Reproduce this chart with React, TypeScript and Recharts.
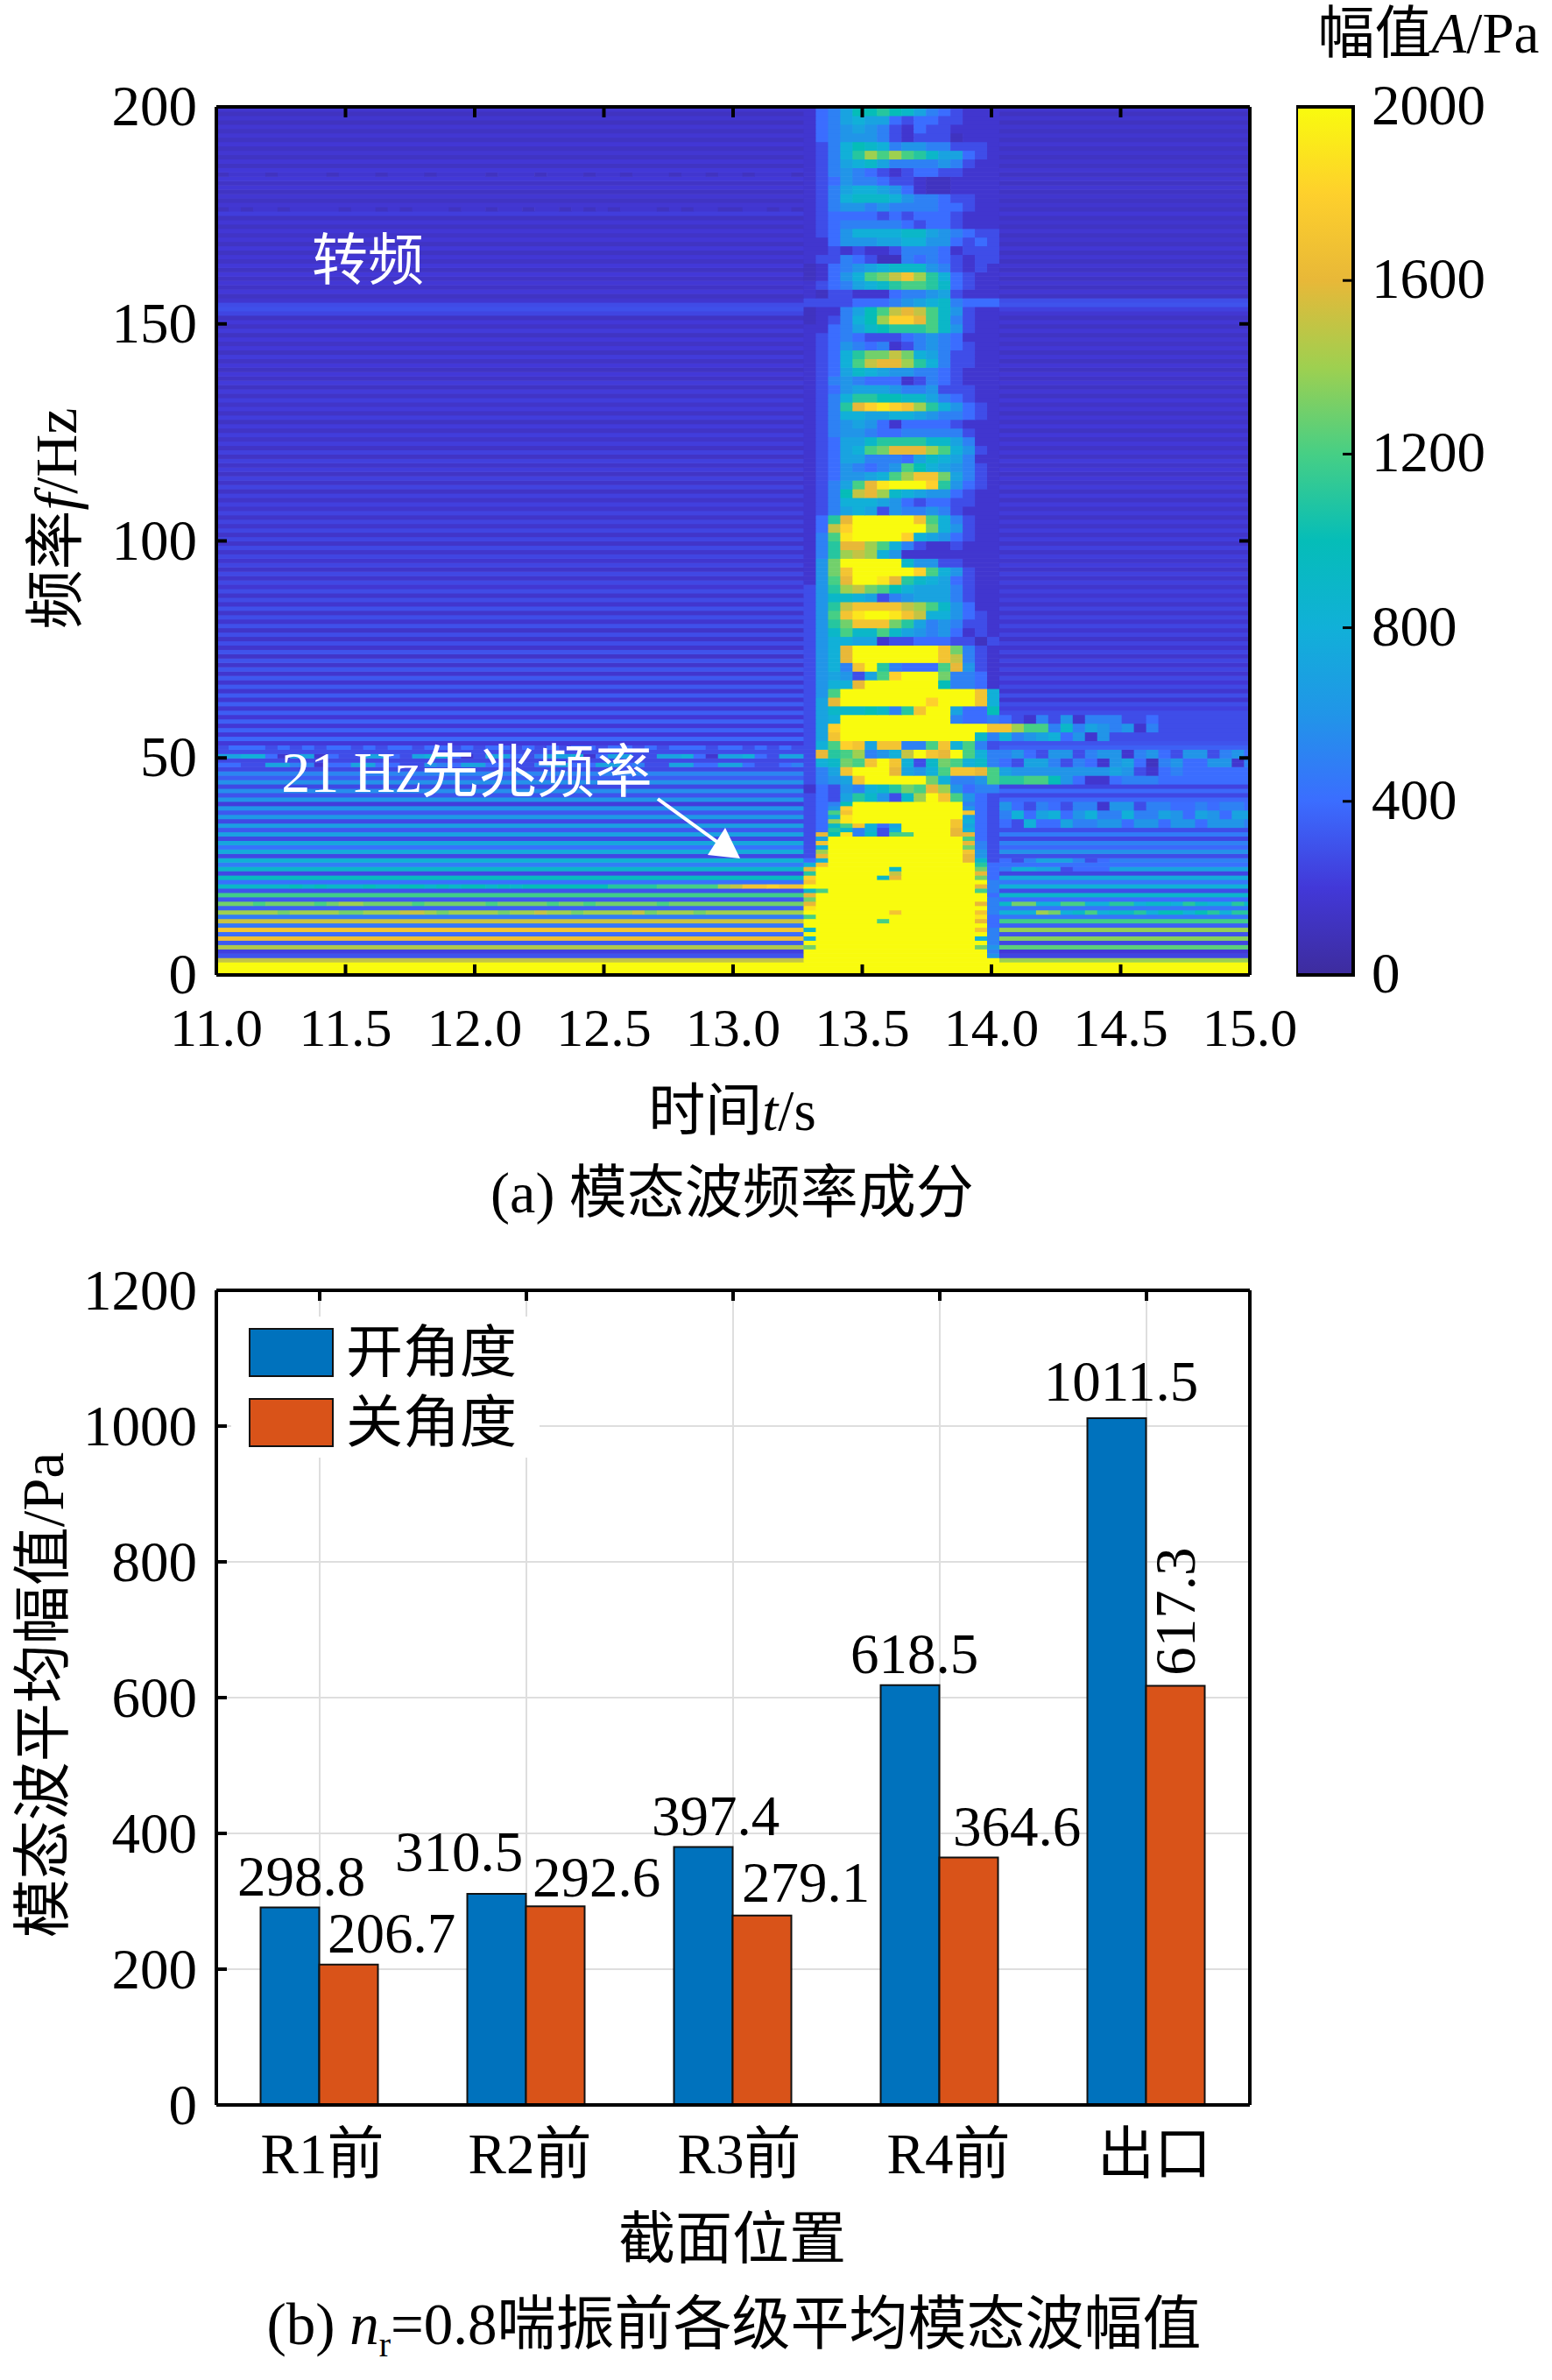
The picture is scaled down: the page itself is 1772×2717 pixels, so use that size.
import React from "react";
import {
  Bar,
  BarChart,
  CartesianGrid,
  LabelList,
  Legend,
  Scatter,
  ScatterChart,
  XAxis,
  YAxis,
} from "recharts";

// panel (a): amplitude per 1 Hz row, before the surge (11.0 s - 13.27 s)
const bgLeft = [
  2000, 2000, 2000, 1500, 300, 230, 1450, 330, 1650, 400,
  1720, 450, 1520, 480, 1420, 350, 1300, 320, 1180, 300,
  980, 420, 950, 260, 880, 480, 820, 260, 760, 430,
  720, 260, 680, 320, 660, 260, 620, 320, 600, 220,
  590, 300, 560, 260, 580, 340, 520, 260, 520, 260,
  520, 280, 400, 200, 380, 200, 360, 190, 350, 190,
  340, 180, 340, 180, 330, 170, 320, 170, 320, 170,
  310, 160, 300, 150, 300, 160, 280, 150, 280, 150,
  290, 170, 280, 160, 290, 170, 270, 160, 270, 180,
  260, 160, 260, 150, 250, 170, 250, 160, 260, 150,
  250, 150, 250, 160, 240, 150, 240, 160, 230, 150,
  230, 140, 240, 150, 230, 140, 220, 150, 230, 140,
  230, 140, 220, 150, 220, 140, 210, 130, 220, 140,
  210, 150, 220, 140, 210, 130, 210, 140, 200, 130,
  200, 140, 210, 130, 200, 140, 200, 130, 210, 140,
  200, 130, 250, 290, 270, 170, 130, 200, 140, 190,
  140, 200, 130, 200, 140, 190, 130, 200, 130, 190,
  140, 190, 130, 190, 130, 220, 130, 180, 130, 180,
  130, 190, 140, 200, 130, 200, 130, 190, 130, 180,
  130, 190, 130, 180, 130, 180, 120, 170, 120, 170,
];

// same rows after the surge (14.03 s - 15.0 s)
const bgRight = [
  2000, 2000, 2000, 1400, 250, 200, 1250, 250, 1350, 300,
  1380, 350, 1180, 450, 1000, 450, 950, 400, 880, 280,
  800, 450, 760, 250, 700, 420, 620, 280, 580, 380,
  500, 250, 470, 280, 500, 350, 550, 400, 550, 350,
  380, 260, 380, 240, 420, 420, 480, 480, 400, 450,
  450, 450, 350, 300, 350, 320, 400, 400, 350, 350,
  280, 230, 280, 170, 280, 170, 260, 190, 260, 170,
  250, 170, 250, 160, 250, 170, 240, 150, 240, 170,
  250, 170, 240, 160, 240, 160, 230, 170, 230, 160,
  230, 160, 230, 150, 220, 160, 220, 150, 230, 150,
  220, 150, 220, 150, 210, 140, 210, 150, 210, 140,
  210, 140, 210, 150, 200, 140, 200, 150, 210, 140,
  200, 140, 200, 140, 200, 130, 200, 140, 190, 130,
  190, 140, 200, 130, 190, 130, 190, 140, 190, 130,
  190, 130, 190, 130, 190, 140, 180, 130, 190, 130,
  190, 130, 180, 230, 300, 280, 130, 190, 130, 180,
  130, 190, 130, 180, 130, 180, 130, 190, 130, 170,
  130, 180, 130, 170, 130, 190, 130, 170, 130, 170,
  130, 180, 130, 180, 130, 180, 130, 170, 130, 170,
  130, 180, 130, 170, 130, 170, 120, 170, 120, 170,
];

// surge columns, one letter per 100 Pa (0-9, A = 1000 ... K = 2000), 2 Hz rows from 200 Hz down to 40 Hz
const burstHigh = [
  "2457AABA97543222", "2457877434433222", "2456765324332222", "2456665323331222",
  "2358A98566553332", "2358BECECB977432", "2357897555565322", "2356543234433222",
  "2346554332112222", "2357887642112222", "2358999865543322", "2356656555544322",
  "2344443434443222", "2345555543443222", "2346888899765433", "2246667788664343",
  "2232322355542333", "2335431154543233", "1245678999653232", "12468CDFHEB84322",
  "2345789BCCB94322", "2133222455673222", "3333444567895444", "12257ACFGFC96322",
  "12358AEIIGC95322", "224579ABBBC96322", "2345433345654222", "2346545235654322",
  "2348BDDFD8753322", "2348CFGGEB853322", "2347987665543222", "2356544423543222",
  "2346777655633322", "2358BBAA99754322", "235BGIJIHEB86432", "2358877887655432",
  "2356764244443222", "2356654455555322", "234779BBBB997522", "23478CDGGGEC8632",
  "2347755547987522", "23465456CA876532", "2346678CEHHD7532", "2357CGJKKKIB6432",
  "235AFGE987664322", "2358887643443322", "2357873655653222", "24BGKKKKKHC85322",
  "24FIKKKKKKD86322", "25CJKKKKI8764322", "25BGGEC853223222", "25BEFE8622222222",
  "26DKKKKK96633222", "26DHKKKKKIC86322", "26CGKKJGB9874322", "36BEFDCA87775322",
  "3699873567775322", "36BFHHHHFEC96422", "36CHJKKJHF886432", "36BDHHHDB7565332",
  "369C99C976564232", "3688772334443313", "368GKKKKKKKHD532", "368GKKKKKKKHF532",
  "3685HKB5444CG632", "367637CIKKKD5542", "3688GKKKKKKA5542", "36CKKKKKKKKKKKH8",
  "37GKKKKKKKIKKKH8", "37999A95BHKK744A", "378KKKKKKKKK5445", "37IKKKKKKKKKKKKH",
  "37HKKKKKKKKKKK95", "38CIH7HH55CH8C53", "3GBCE568FKHGKC85", "389DCHKH839DC895",
  "357HKKKG768CHHGC", "3567HKKKKKD8556C", "2436589BDCGE6455", "3437B9639EKHC643",
];

// surge columns, 1 Hz rows from 39 Hz down to 0 Hz
const burstLow = [
  "345AKKKKKKKKK543", "346IKKKKKKKKK643", "34CHKKKKKKKKKH43", "348JKKKKKKKKK743",
  "34EJKKKKKKKKH843", "349CH847KKKKH743", "34B95838KKKKG843", "3GAJ593CCKKKGG43",
  "37KKKKKKKKKKKC43", "3HKKKKKKKKKKKG53", "38KKKKKKKKKKKD53", "3EKKKKKKKKKKKH63",
  "3GKKKKKKKKKKKG63", "48KKKKKKKKKKKG93", "8HKKKKKKKKKKKKB4", "GKKKKKK9KKKKKKD4",
  "BKKKKKKFKKKKKKG4", "IKKKKK9GKKKKKKD4", "HKKKKKKKKKKKKKK5", "KKKKKKKKKKKKKKG5",
  "9CKKKKKKKKKKKKC5", "GKKKKKKKKKKKKKK4", "DKKKKKKKKKKKKKK5", "GKKKKKKKKKKKKKG5",
  "JKKKKKKKKKKKKKK5", "KKKKKKKHKKKKKKH5", "CKKKKKKKKKKKKKJ4", "KKKKKKCKKKKKKKG4",
  "KKKKKKKKKKKKKKK4", "9KKKKKKKKKKKKKH5", "KKKKKKKKKKKKKKK5", "8KKKKKKKKKKKKK85",
  "KKKKKKKKKKKKKKK5", "DKKKKKKKKKKKKKD6", "KKKKKKKKKKKKKKK5", "KKKKKKKKKKKKKKK6",
  "KKKKKKKKKKKKKKKK", "KKKKKKKKKKKKKKKK", "KKKKKKKKKKKKKKKK", "KKKKKKKKKKKKKKKK",
];

// rows where the background is not flat along time: [first row, rows covered, letters per column]
const leftRowDetail: [number, number, string][] = [
  [20, 1, "999999A9A999A99AA9A9AA9A9AAAAAAABBBBCCCCCEFHHIHH"],
  [14, 1, "EEEEEDEEEEDDEEEFFEDEEEEDEEFEEDEEEEFDEEEDEEEEEEEEE"],
  [16, 1, "DDDCDDDDCDEEDDDDCDDDDDCDDDDCDDCDDDDDCDDDDDDDDDDD"],
  [50, 1, "7788427724337743788423774357782477337784277843773"],
  [48, 1, "4433775524477443365477443356744774533774477433454"],
  [52, 1, "3444343434434344344343443434344344343444344343434"],
  [176, 1, "1212212222122121222122122122121212221212211221212"],
  [184, 1, "1222122221222122212222122212221221222122122122212"],
];

const rightRowDetail: [number, number, string][] = [
  [56, 2, "HECC59576562533333333"],
  [54, 2, "856784626333333333333"],
  [58, 2, "432536255533433333333"],
  [50, 2, "564366356625643663564"],
  [48, 2, "437753542674156446625"],
  [46, 2, "766666666763245444444"],
  [44, 2, "BBCCA6422455544444444"],
  [38, 2, "643543552663554454554"],
  [36, 2, "584784685585576476477"],
  [34, 2, "438447556646646646665"],
  [26, 1, "435777534555555555555"],
  [24, 1, "588773444777777777777"],
  [16, 1, "9DD88CC88BB8998B988B9"],
  [14, 1, "888ED89C899B8AA8AB8BB"],
];

const timeTicks = [11, 11.5, 12, 12.5, 13, 13.5, 14, 14.5, 15];
const freqTicks = [0, 50, 100, 150, 200];
const ampTicks = [0, 400, 800, 1200, 1600, 2000];
const ampStops = [0, 200, 400, 600, 800, 1000, 1200, 1400, 1600, 1800, 2000];
const ampColors = [
  "#3d2c9d", "#4238d8", "#3b6dff", "#2195e8", "#11b0d8", "#05bdb8",
  "#46cf85", "#9ed050", "#e8b838", "#fed02c", "#f9fb0e",
];
const frameAnchors = [
  { t0: 11, f0: 0 },
  { t0: 15, f0: 200 },
];

// panel (b)
const sections = ["R1前", "R2前", "R3前", "R4前", "出口"];
const openHeights = [291, 311, 380, 618.5, 1011.5];
const closeHeights = [206.7, 292.6, 279.1, 364.6, 617.3];
const openLabels = ["298.8", "310.5", "397.4", "618.5", "1011.5"];
const closeLabels = ["206.7", "292.6", "279.1", "364.6", "617.3"];
const meanTicks = [0, 200, 400, 600, 800, 1000, 1200];

// layout
const SERIF = '"Liberation Serif", "Noto Sans CJK SC", serif';
const PLOT_LEFT = 247;
const PLOT_RIGHT = 1427;
const A_TOP = 122;
const A_BOTTOM = 1113;
const B_TOP = 73;
const B_BOTTOM = 1003;
const PX_PER_S = (PLOT_RIGHT - PLOT_LEFT) / 4;
const PX_PER_HZ = (A_BOTTOM - A_TOP) / 200;
const COL_DT = 0.04735;
const BURST_COL = 48;
const RIGHT_COL = 64;
const COLS = 85;

const openLabelNudge = [[13, -35], [-43, -48], [14, -36], [5, -36], [5, -42]];
const closeLabelNudge = [[49, -36], [47, -33], [50, -38], [55, -35], [0, -85]];
const sectionTickNudge = [3, 4, 7, 10, 9];

function hexRgb(hex: string) {
  return [1, 3, 5].map((i) => parseInt(hex.slice(i, i + 2), 16));
}

function ampColor(a: number) {
  const v = Math.min(2000, Math.max(0, a));
  const i = Math.min(ampStops.length - 2, Math.floor(v / 200));
  const f = (v - ampStops[i]) / 200;
  const c0 = hexRgb(ampColors[i]);
  const c1 = hexRgb(ampColors[i + 1]);
  const rgb = c0.map((c, j) => Math.round(c + (c1[j] - c) * f));
  return `rgb(${rgb.join(",")})`;
}

// the faintest letters sit closer to the background rows
function letterAmp(ch: string) {
  if (ch === "1") return 120;
  if (ch === "2") return 170;
  if (ch === "3") return 280;
  return parseInt(ch, 21) * 100;
}

function burstString(row: number) {
  if (row < 40) return burstLow[39 - row];
  return burstHigh[Math.floor((199 - row) / 2)];
}

function detailFor(table: [number, number, string][], row: number) {
  const hit = table.find(([first, n]) => row >= first && row < first + n);
  return hit ? hit[2] : "";
}

// merge equal neighbours so each row only draws as many rects as it needs
function buildCells() {
  const out: { t0: number; t1: number; f0: number; f1: number; a: number }[] = [];
  for (let row = 0; row < 200; row++) {
    const burst = burstString(row);
    const left = detailFor(leftRowDetail, row);
    const right = detailFor(rightRowDetail, row);
    let start = 0;
    let current = -1;
    for (let k = 0; k <= COLS; k++) {
      let a = -2;
      if (k < BURST_COL) a = left[k] ? letterAmp(left[k]) : bgLeft[row];
      else if (k < RIGHT_COL) a = letterAmp(burst[k - BURST_COL]);
      else if (k < COLS) {
        const ch = right[k - RIGHT_COL];
        a = ch ? letterAmp(ch) : bgRight[row];
      }
      if (a !== current) {
        if (current >= 0) {
          out.push({
            t0: 11 + start * COL_DT,
            t1: Math.min(15, 11 + k * COL_DT),
            f0: row,
            f1: row + 1,
            a: current,
          });
        }
        start = k;
        current = a;
      }
    }
  }
  return out;
}

const cells = buildCells();

function HeatCell(props: any) {
  const { cx, cy, payload } = props;
  const w = (payload.t1 - payload.t0) * PX_PER_S;
  const h = (payload.f1 - payload.f0) * PX_PER_HZ;
  return (
    <rect
      x={cx}
      y={cy - h}
      width={Math.min(w + 0.6, PLOT_RIGHT - cx)}
      height={h + 0.6}
      fill={ampColor(payload.a)}
    />
  );
}

function Txt({ x, y, size = 65, color = "#000", rotate, children }: any) {
  return (
    <div
      style={{
        position: "absolute",
        left: x,
        top: y,
        transform: `translate(-50%, -50%)${rotate ? ` rotate(${rotate}deg)` : ""}`,
        fontFamily: SERIF,
        fontSize: size,
        lineHeight: 1,
        color,
        whiteSpace: "nowrap",
      }}
    >
      {children}
    </div>
  );
}

const I = ({ children }: any) => <span style={{ fontStyle: "italic" }}>{children}</span>;

const emptyTick = () => "";
const noMark = () => <g />;

function HeatPanel() {
  return (
    <ScatterChart
      width={1772}
      height={1300}
      margin={{ top: A_TOP, right: 1772 - PLOT_RIGHT, bottom: 1300 - A_BOTTOM, left: PLOT_LEFT }}
    >
      <XAxis type="number" dataKey="t0" domain={[11, 15]} allowDataOverflow hide />
      <YAxis type="number" dataKey="f0" domain={[0, 200]} allowDataOverflow hide />
      <Scatter data={cells} dataKey="f0" shape={HeatCell} isAnimationActive={false} />
    </ScatterChart>
  );
}

// axes live in their own transparent chart so the box and ticks sit above the cells
function HeatFrame() {
  const axisLine = { stroke: "#000", strokeWidth: 4 };
  const tickLine = { stroke: "#000", strokeWidth: 4 };
  return (
    <ScatterChart
      width={1772}
      height={1300}
      margin={{ top: A_TOP - 1, right: 1772 - PLOT_RIGHT - 1, bottom: 1300 - A_BOTTOM - 100, left: PLOT_LEFT - 100 }}
    >
      <XAxis
        type="number"
        dataKey="t0"
        domain={[11, 15]}
        ticks={timeTicks}
        interval={0}
        height={100}
        axisLine={axisLine}
        tickLine={tickLine}
        tickSize={-12}
        tickMargin={49}
        tickFormatter={(v: number) => v.toFixed(1)}
        tick={{ fontFamily: SERIF, fontSize: 62, fill: "#000" }}
      />
      <YAxis
        type="number"
        dataKey="f0"
        domain={[0, 200]}
        ticks={freqTicks}
        interval={0}
        width={100}
        axisLine={axisLine}
        tickLine={tickLine}
        tickSize={-12}
        tickMargin={34}
        tick={{ fontFamily: SERIF, fontSize: 65, fill: "#000", dy: -2 }}
      />
      <XAxis
        xAxisId="top"
        orientation="top"
        type="number"
        dataKey="t0"
        domain={[11, 15]}
        ticks={timeTicks}
        interval={0}
        height={1}
        axisLine={axisLine}
        tickLine={tickLine}
        tickSize={-12}
        tickFormatter={emptyTick}
      />
      <YAxis
        yAxisId="right"
        orientation="right"
        type="number"
        dataKey="f0"
        domain={[0, 200]}
        ticks={freqTicks}
        interval={0}
        width={1}
        axisLine={axisLine}
        tickLine={tickLine}
        tickSize={-12}
        tickFormatter={emptyTick}
      />
      <Scatter data={frameAnchors} dataKey="f0" shape={noMark} isAnimationActive={false} />
      <Scatter
        data={frameAnchors}
        dataKey="f0"
        xAxisId="top"
        yAxisId="right"
        shape={noMark}
        isAnimationActive={false}
      />
    </ScatterChart>
  );
}

function ColorBar() {
  return (
    <BarChart
      width={292}
      height={1300}
      data={[{ name: "A", level: 2000 }]}
      margin={{ top: A_TOP, right: 0, bottom: 1300 - A_BOTTOM, left: 0 }}
      barCategoryGap={0}
    >
      <defs>
        <linearGradient id="parula" x1="0" y1="0" x2="0" y2="1">
          {[...ampStops].reverse().map((s) => (
            <stop
              key={s}
              offset={`${100 - (s / 2000) * 100}%`}
              stopColor={ampColors[ampStops.indexOf(s)]}
            />
          ))}
        </linearGradient>
      </defs>
      <XAxis dataKey="name" hide />
      <YAxis
        orientation="right"
        domain={[0, 2000]}
        ticks={ampTicks}
        interval={0}
        width={227}
        axisLine={{ stroke: "#000", strokeWidth: 4 }}
        tickLine={{ stroke: "#000", strokeWidth: 3 }}
        tickSize={-12}
        tickMargin={33}
        tick={{ fontFamily: SERIF, fontSize: 65, fill: "#000", dy: -3 }}
      />
      <Bar
        dataKey="level"
        fill="url(#parula)"
        stroke="#000"
        strokeWidth={4}
        isAnimationActive={false}
      />
    </BarChart>
  );
}

function barLabel(labels: string[], nudge: number[][], lastVertical: boolean) {
  return (props: any) => {
    const { x, y, width, index } = props;
    const cx = x + width / 2 + nudge[index][0];
    const cy = y + nudge[index][1];
    const vertical = lastVertical && index === labels.length - 1;
    return (
      <text
        x={cx}
        y={cy}
        textAnchor="middle"
        dominantBaseline="central"
        transform={vertical ? `rotate(-90 ${cx} ${cy})` : undefined}
        fontFamily={SERIF}
        fontSize={65}
        fill="#000"
      >
        {labels[index]}
      </text>
    );
  };
}

function SectionTick(props: any) {
  const { x, index, payload } = props;
  return (
    <text
      x={x + sectionTickNudge[index]}
      y={B_BOTTOM + 56}
      textAnchor="middle"
      dominantBaseline="central"
      fontFamily={SERIF}
      fontSize={65}
      fill="#000"
    >
      {payload.value}
    </text>
  );
}

function LegendBox(props: any) {
  return (
    <div style={{ background: "#fff", padding: "1px 16px 0 20px", fontFamily: SERIF }}>
      {props.payload.map((p: any) => (
        <div
          key={p.value}
          style={{
            display: "flex",
            alignItems: "center",
            height: 80,
            fontSize: 65,
            lineHeight: 1,
            whiteSpace: "nowrap",
          }}
        >
          <span
            style={{
              display: "inline-block",
              flex: "none",
              width: 97,
              height: 56,
              background: p.color,
              border: "2px solid #111",
              boxSizing: "border-box",
              marginRight: 14,
            }}
          />
          {p.value}
        </div>
      ))}
    </div>
  );
}

function MeanPanel() {
  const data = sections.map((s, i) => ({
    section: s,
    open: openHeights[i],
    close: closeHeights[i],
  }));
  const axisLine = { stroke: "#000", strokeWidth: 4 };
  const tickLine = { stroke: "#000", strokeWidth: 4 };
  return (
    <BarChart
      width={1772}
      height={1300}
      data={data}
      margin={{
        top: B_TOP - 1,
        right: 1772 - PLOT_RIGHT - 1,
        bottom: 1300 - B_BOTTOM - 100,
        left: PLOT_LEFT - 100,
      }}
      barCategoryGap="21.4%"
      barGap={0}
    >
      <CartesianGrid stroke="#dedede" strokeWidth={2} />
      <XAxis
        dataKey="section"
        height={100}
        interval={0}
        axisLine={axisLine}
        tickLine={false}
        tick={SectionTick}
      />
      <YAxis
        domain={[0, 1200]}
        ticks={meanTicks}
        interval={0}
        width={100}
        axisLine={axisLine}
        tickLine={tickLine}
        tickSize={-12}
        tickMargin={34}
        tick={{ fontFamily: SERIF, fontSize: 65, fill: "#000", dy: -1 }}
      />
      <XAxis
        xAxisId="top"
        orientation="top"
        dataKey="section"
        height={1}
        interval={0}
        axisLine={axisLine}
        tickLine={tickLine}
        tickSize={-12}
        tickFormatter={emptyTick}
      />
      <YAxis
        yAxisId="right"
        orientation="right"
        domain={[0, 1200]}
        ticks={meanTicks}
        interval={0}
        width={1}
        axisLine={axisLine}
        tickLine={tickLine}
        tickSize={-12}
        tickFormatter={emptyTick}
      />
      <Legend
        layout="horizontal"
        verticalAlign="middle"
        align="center"
        itemSorter={null}
        content={LegendBox}
        wrapperStyle={{ left: 264, top: 103, width: 352 }}
      />
      <Bar
        dataKey="open"
        name="开角度"
        fill="#0072BD"
        stroke="#111"
        strokeWidth={2}
        isAnimationActive={false}
      >
        <LabelList content={barLabel(openLabels, openLabelNudge, false)} />
      </Bar>
      <Bar
        dataKey="close"
        name="关角度"
        fill="#D95319"
        stroke="#111"
        strokeWidth={2}
        isAnimationActive={false}
      >
        <LabelList content={barLabel(closeLabels, closeLabelNudge, true)} />
      </Bar>
    </BarChart>
  );
}

export default function App() {
  return (
    <div
      style={{
        position: "absolute",
        left: 0,
        top: 0,
        width: 1772,
        height: 2717,
        background: "#fff",
        overflow: "hidden",
      }}
    >
      <div style={{ position: "absolute", left: 0, top: 0 }}>
        <HeatPanel />
      </div>
      <div style={{ position: "absolute", left: 0, top: 0 }}>
        <HeatFrame />
      </div>
      <div style={{ position: "absolute", left: 1480, top: 0 }}>
        <ColorBar />
      </div>
      <div style={{ position: "absolute", left: 0, top: 1400 }}>
        <MeanPanel />
      </div>

      <svg
        width={1772}
        height={1300}
        style={{ position: "absolute", left: 0, top: 0, pointerEvents: "none" }}
      >
        <line x1={751} y1={912} x2={820} y2={962} stroke="#fff" strokeWidth={4} />
        <polygon points="845,980 828,945 808,976" fill="#fff" />
      </svg>

      <Txt x={420} y={298} size={64} color="#fff">转频</Txt>
      <Txt x={533} y={882} size={66} color="#fff">21 Hz先兆频率</Txt>
      <Txt x={64} y={592} size={68} rotate={-90}>频率<I>f</I>/Hz</Txt>
      <Txt x={836} y={1268}>时间<I>t</I>/s</Txt>
      <Txt x={836} y={1362} size={66}>(a) 模态波频率成分</Txt>
      <Txt x={1631} y={38}>幅值<I>A</I>/Pa</Txt>
      <Txt x={49} y={1935} size={67} rotate={-90}>模态波平均幅值/Pa</Txt>
      <Txt x={836} y={2556}>截面位置</Txt>
      <Txt x={838} y={2653} size={67}>
        (b) <I>n</I>
        <sub style={{ fontSize: 40, lineHeight: 0 }}>r</sub>=0.8喘振前各级平均模态波幅值
      </Txt>
    </div>
  );
}
